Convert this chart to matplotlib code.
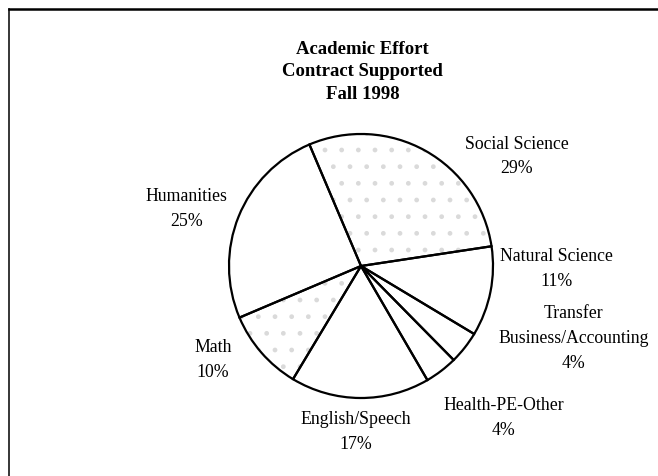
import matplotlib.pyplot as plt
from matplotlib.lines import Line2D

# datos del grafico
categories = ['Social Science', 'Natural Science', 'Transfer\nBusiness/Accounting',
              'Health-PE-Other', 'English/Speech', 'Math', 'Humanities']
percents = [29, 11, 4, 4, 17, 10, 25]
stippled = ['Social Science', 'Math']
title_lines = ['Academic Effort', 'Contract Supported', 'Fall 1998']

# donde va cada etiqueta (en radios del pie)
label_pos = [(1.18, 0.83), (1.48, -0.02), (1.61, -0.55), (1.08, -1.15),
             (-0.04, -1.26), (-1.12, -0.71), (-1.32, 0.43)]

plt.rcParams['font.family'] = ['Liberation Serif', 'DejaVu Serif']

W, H = 658, 476
cx, cy, r = 361, 266, 132

fig = plt.figure(figsize=(W / 100, H / 100), dpi=100)
ax = fig.add_axes([0, 0, 1, 1])
ax.set_xlim(-cx / r, (W - cx) / r)
ax.set_ylim(-(H - cy) / r, cy / r)
ax.set_aspect('equal')
ax.axis('off')

# fondo punteado gris para algunas porciones
back, _ = ax.pie(percents, startangle=113, counterclock=False, radius=1,
                 wedgeprops=dict(linewidth=0))
for w, cat in zip(back, categories):
    w.set_facecolor('white')
    if cat in stippled:
        w.set_hatch('.')
        w.set_edgecolor('#dadada')
    else:
        w.set_edgecolor('white')

# bordes negros
ax.pie(percents, startangle=113, counterclock=False, radius=1,
       wedgeprops=dict(fill=False, edgecolor='black', linewidth=1.6))
ax.set_xlim(-cx / r, (W - cx) / r)
ax.set_ylim(-(H - cy) / r, cy / r)

for cat, p, (x, y) in zip(categories, percents, label_pos):
    ax.text(x, y, f'{cat}\n{p}%', ha='center', va='center', fontsize=12.8,
            linespacing=1.6)

ax.text(0.01, 1.47, '\n'.join(title_lines), ha='center', va='center',
        fontsize=13.5, fontweight='bold', linespacing=1.45)

# marco (solo arriba e izquierda se ven)
fig.add_artist(Line2D([9 / W, 1], [1 - 9 / H, 1 - 9 / H], color='black', linewidth=1.8))
fig.add_artist(Line2D([9 / W, 9 / W], [0, 1 - 9 / H], color='black', linewidth=1.1))

plt.savefig('out.png', dpi=100)
